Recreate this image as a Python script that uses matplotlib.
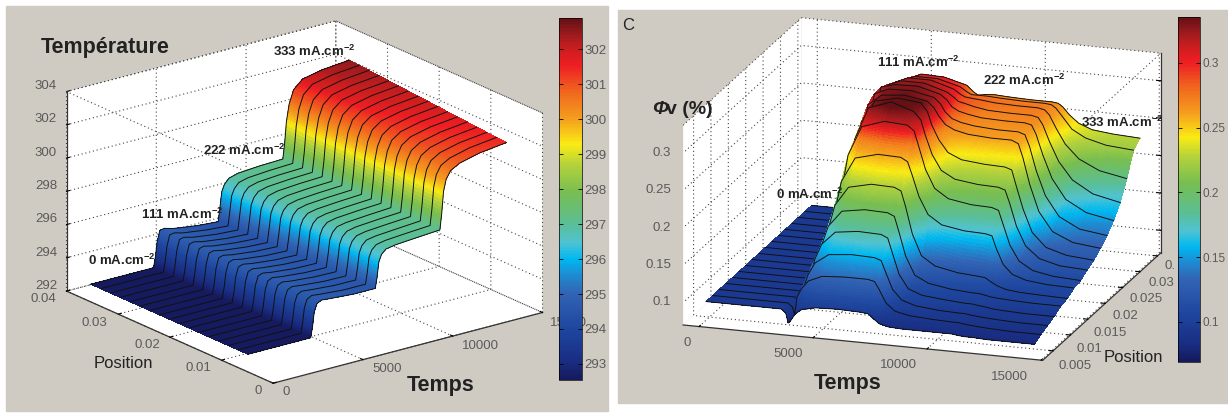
import numpy as np
import matplotlib
matplotlib.use("Agg")
import matplotlib.pyplot as plt
from matplotlib.colors import LinearSegmentedColormap, Normalize
from matplotlib.cm import ScalarMappable
from matplotlib.patches import Rectangle

plt.rcParams['font.family'] = ['Liberation Sans', 'DejaVu Sans']
plt.rcParams['mathtext.fontset'] = 'custom'
plt.rcParams['mathtext.rm'] = 'Liberation Sans'
plt.rcParams['mathtext.bf'] = 'Liberation Sans:bold'
plt.rcParams['mathtext.it'] = 'Liberation Sans:italic'

# left panel : temperature, one inner list per time, front row first
temp_times = [600, 3000, 4100, 4200, 4300, 4450, 4700, 5200, 6500, 7700, 7800, 7900,
              8050, 8300, 8800, 10000, 11300, 11400, 11500, 11650, 11900, 12400, 13500, 15000]
temp_positions = [0.0070, 0.0089, 0.0108, 0.0127, 0.0146, 0.0165, 0.0184, 0.0203, 0.0222,
                  0.0241, 0.0260, 0.0279, 0.0298, 0.0317, 0.0336, 0.0355, 0.0374]
temp_values = [
    [292.6] * 17,
    [292.6] * 17,
    [292.6] * 17,
    [293.2] * 17,
    [294.1] * 17,
    [294.55, 294.56, 294.58, 294.59, 294.60, 294.61, 294.63, 294.64, 294.65, 294.66, 294.68, 294.69, 294.70, 294.71, 294.73, 294.74, 294.75],
    [294.70, 294.71, 294.71, 294.72, 294.73, 294.73, 294.74, 294.74, 294.75, 294.76, 294.76, 294.77, 294.78, 294.78, 294.79, 294.79, 294.80],
    [294.65] * 17,
    [294.55, 294.54, 294.54, 294.53, 294.53, 294.52, 294.51, 294.51, 294.50, 294.49, 294.49, 294.48, 294.48, 294.47, 294.46, 294.46, 294.45],
    [294.55, 294.54, 294.53, 294.51, 294.50, 294.49, 294.48, 294.46, 294.45, 294.44, 294.43, 294.41, 294.40, 294.39, 294.38, 294.36, 294.35],
    [295.2] * 17,
    [296.1] * 17,
    [296.5] * 17,
    [296.75, 296.75, 296.76, 296.76, 296.76, 296.77, 296.77, 296.77, 296.78, 296.78, 296.78, 296.78, 296.79, 296.79, 296.79, 296.80, 296.80],
    [296.85, 296.86, 296.86, 296.87, 296.88, 296.88, 296.89, 296.89, 296.90, 296.91, 296.91, 296.92, 296.93, 296.93, 296.94, 296.94, 296.95],
    [296.95, 296.96, 296.96, 296.97, 296.98, 296.98, 296.99, 296.99, 297.00, 297.01, 297.01, 297.02, 297.03, 297.03, 297.04, 297.04, 297.05],
    [297.05, 297.05, 297.06, 297.06, 297.06, 297.07, 297.07, 297.07, 297.08, 297.08, 297.08, 297.08, 297.09, 297.09, 297.09, 297.10, 297.10],
    [298.0] * 17,
    [299.3] * 17,
    [300.00, 300.02, 300.04, 300.06, 300.08, 300.09, 300.11, 300.13, 300.15, 300.17, 300.19, 300.21, 300.23, 300.24, 300.26, 300.28, 300.30],
    [300.45, 300.49, 300.53, 300.57, 300.61, 300.65, 300.69, 300.73, 300.78, 300.82, 300.86, 300.90, 300.94, 300.98, 301.02, 301.06, 301.10],
    [300.75, 300.80, 300.86, 300.91, 300.96, 301.02, 301.07, 301.12, 301.18, 301.23, 301.28, 301.33, 301.39, 301.44, 301.49, 301.55, 301.60],
    [301.05, 301.10, 301.15, 301.20, 301.25, 301.30, 301.35, 301.40, 301.45, 301.50, 301.55, 301.60, 301.65, 301.70, 301.75, 301.80, 301.85],
    [301.25, 301.30, 301.34, 301.39, 301.44, 301.48, 301.53, 301.58, 301.63, 301.67, 301.72, 301.77, 301.81, 301.86, 301.91, 301.95, 302.00],
]

# right panel : phi v, one inner list per position, front row first
phi_times = [0, 3300, 3500, 3600, 3700, 3900, 4200, 4800, 5800, 6800, 7100, 7300,
             7600, 8000, 8600, 9600, 10500, 10800, 11000, 11300, 11700, 12300, 13200, 14400]
phi_positions = [0.0040, 0.0059, 0.0078, 0.0097, 0.0116, 0.0135, 0.0154, 0.0173, 0.0192,
                 0.0211, 0.0230, 0.0249, 0.0268, 0.0287, 0.0306, 0.0325, 0.0344]
phi_values = [
    [.095, .095, .090, .077, .080, .090, .097, .101, .102, .101, .100, .095, .088, .085, .084, .084, .084, .084, .083, .082, .082, .081, .081, .081],
    [.095, .095, .090, .080, .104, .116, .127, .135, .137, .137, .135, .125, .108, .098, .094, .092, .091, .091, .090, .089, .088, .087, .086, .086],
    [.095, .095, .092, .085, .109, .127, .143, .156, .159, .158, .155, .140, .118, .105, .099, .096, .095, .095, .094, .093, .092, .091, .090, .090],
    [.095, .095, .093, .090, .114, .139, .160, .178, .182, .181, .177, .158, .130, .112, .105, .102, .100, .100, .099, .098, .096, .095, .094, .094],
    [.095, .095, .094, .095, .119, .149, .176, .198, .203, .202, .198, .178, .146, .122, .113, .108, .106, .106, .105, .103, .102, .101, .100, .100],
    [.095, .095, .095, .100, .124, .162, .196, .222, .229, .228, .224, .204, .168, .140, .128, .122, .120, .119, .115, .110, .106, .104, .103, .102],
    [.095, .095, .095, .105, .132, .178, .220, .253, .261, .260, .255, .238, .210, .187, .175, .170, .169, .167, .150, .130, .118, .112, .109, .108],
    [.095, .095, .095, .110, .139, .196, .247, .287, .297, .295, .288, .268, .238, .214, .202, .197, .196, .193, .175, .148, .128, .117, .112, .110],
    [.095, .095, .095, .115, .143, .205, .260, .304, .315, .305, .295, .275, .250, .230, .220, .216, .215, .212, .195, .165, .140, .125, .118, .116],
    [.095, .095, .095, .120, .150, .220, .275, .305, .312, .309, .298, .280, .262, .246, .238, .235, .234, .231, .210, .180, .150, .132, .124, .121],
    [.095, .095, .095, .120, .155, .235, .290, .305, .308, .303, .295, .285, .274, .268, .264, .262, .262, .258, .240, .205, .170, .145, .133, .129],
    [.095, .095, .095, .120, .160, .250, .297, .305, .306, .300, .292, .282, .274, .270, .267, .265, .265, .262, .247, .215, .183, .157, .143, .138],
    [.095, .095, .095, .120, .170, .265, .298, .303, .304, .296, .289, .281, .276, .273, .270, .269, .269, .267, .255, .228, .198, .172, .157, .150],
    [.095, .095, .095, .120, .175, .265, .293, .300, .300, .291, .285, .280, .278, .275, .272, .271, .271, .269, .260, .238, .213, .190, .174, .166],
    [.095, .095, .095, .120, .175, .260, .288, .296, .296, .287, .281, .278, .277, .276, .274, .273, .273, .271, .265, .248, .228, .210, .197, .190],
    [.095, .095, .095, .115, .170, .255, .282, .290, .290, .282, .276, .273, .273, .273, .272, .271, .271, .270, .266, .255, .240, .230, .223, .220],
    [.095, .095, .095, .110, .165, .250, .276, .285, .284, .276, .268, .264, .266, .267, .266, .265, .265, .264, .260, .250, .240, .233, .230, .228],
]

# tick values and colorbar ticks
temp_xticks = [0, 5000, 10000, 15000]
temp_yticks = [0, 0.01, 0.02, 0.03, 0.04]
temp_zticks = [292, 294, 296, 298, 300, 302, 304]
temp_cticks = [293, 294, 295, 296, 297, 298, 299, 300, 301, 302]
phi_xticks = [0, 5000, 10000, 15000]
phi_yticks = [0.005, 0.01, 0.015, 0.02, 0.025, 0.03, 0.035]
phi_zticks = [0.1, 0.15, 0.2, 0.25, 0.3]
phi_cticks = [0.1, 0.15, 0.2, 0.25, 0.3]
phi_clabels = ['0.1', '0.15', '0.2', '0.25', '0.3']

# colours read on the colorbar
cmap = LinearSegmentedColormap.from_list('bar', [
    (0.00, '#16195c'), (0.05, '#192d82'), (0.14, '#1e469f'), (0.24, '#3264b4'),
    (0.29, '#1e8cd2'), (0.334, '#00b9f0'), (0.38, '#50c3d2'), (0.43, '#5abe96'),
    (0.52, '#78be50'), (0.595, '#b4d23c'), (0.652, '#faeb14'), (0.72, '#f5a01e'),
    (0.80, '#f0641e'), (0.87, '#ee1e23'), (0.92, '#c81e1e'), (0.96, '#961a1e'), (1.00, '#641014'),
])
beige = '#d0cbc2'
grey = '#5a5a5a'
dots = (0, (1, 2.5))

fig = plt.figure(figsize=(12.28, 4.13), dpi=100, facecolor='white')
W, H = 1228.0, 413.0

# the two grey panels
fig.patches.append(Rectangle((6 / W, 1 - 411 / H), 602 / W, 405 / H, transform=fig.transFigure, color=beige, zorder=-5))
fig.patches.append(Rectangle((618 / W, 1 - 403 / H), 610 / W, 393 / H, transform=fig.transFigure, color=beige, zorder=-5))


def make_axes(cx, cy, elev, azim, box, zoom):
    # cx, cy is where the middle of the box falls, in pixels
    # the axes are large because mplot3d clips what goes out of them
    size = 700.0
    rect = [(cx - 0.5135 * size) / W, 1 - (cy + 0.515 * size) / H, size / W, size / H]
    ax = fig.add_axes(rect, projection='3d', proj_type='ortho', computed_zorder=False)
    ax.patch.set_alpha(0)
    ax.view_init(elev=elev, azim=azim)
    ax.set_box_aspect(box, zoom=zoom)
    for axis in (ax.xaxis, ax.yaxis, ax.zaxis):
        axis.set_pane_color('white')
        axis.pane.set_edgecolor('none')
        axis.line.set_color('#333333')
        axis.line.set_linewidth(0.9)
        axis._axinfo['grid'].update(color='#444444', linestyle=dots, linewidth=0.8)
        axis._axinfo['tick'].update(inward_factor=0.0, outward_factor=0.14)
    return ax


def draw_surface(ax, times, positions, rows, remap_in, remap_out, norm, p_split):
    # strips are painted back to front so the front ones hide what they should
    rows = np.array(rows)
    times = np.array(times, dtype=float)
    positions = np.array(positions)
    n_t = len(times)
    # only splits the flat faces to get a smooth colour on them
    idx = np.linspace(0, n_t - 1, (n_t - 1) * 6 + 1)
    t_mesh = np.interp(idx, np.arange(n_t), times)
    u = np.linspace(0, 1, p_split + 1)
    order = 2
    for i in range(len(positions) - 2, -1, -1):
        za = np.interp(idx, np.arange(n_t), rows[i])
        zb = np.interp(idx, np.arange(n_t), rows[i + 1])
        zz = np.outer(1 - u, za) + np.outer(u, zb)
        pp = positions[i] + u * (positions[i + 1] - positions[i])
        tt, pp = np.meshgrid(t_mesh, pp)
        colours = cmap(norm(np.interp(zz, remap_in, remap_out)))
        ax.plot_surface(tt, pp, zz, facecolors=colours, rstride=1, cstride=1, shade=False,
                        linewidth=0.3, edgecolor='none', antialiased=False, zorder=order)
        order += 1
        ax.plot(times, [positions[i + 1]] * n_t, rows[i + 1], color='#111111', lw=0.7, zorder=order)
        order += 1
    ax.plot(times, [positions[0]] * n_t, rows[0], color='#111111', lw=0.7, zorder=order)


def top_box(ax, x, y, z):
    # dotted top of the box
    ax.plot([x[0], x[1]], [y[1], y[1]], [z[1], z[1]], color='#444444', ls=dots, lw=0.8, zorder=1)
    ax.plot([x[0], x[0]], [y[0], y[1]], [z[1], z[1]], color='#444444', ls=dots, lw=0.8, zorder=1)
    ax.plot([x[1], x[1]], [y[0], y[1]], [z[1], z[1]], color='#444444', ls=dots, lw=0.8, zorder=1)


def add_colorbar(x0, x1, y0, y1, vmin, vmax, ticks, labels, size):
    cax = fig.add_axes([x0 / W, 1 - y1 / H, (x1 - x0) / W, (y1 - y0) / H])
    cb = fig.colorbar(ScalarMappable(norm=Normalize(vmin, vmax), cmap=cmap), cax=cax)
    cb.set_ticks(ticks)
    cb.set_ticklabels(labels)
    cb.outline.set_linewidth(0.5)
    cax.tick_params(axis='y', direction='in', length=3, width=0.6, labelsize=size, labelcolor=grey,
                    left=True, right=True, pad=2)
    return cb


def label(x, y, s, **kw):
    fig.text(x / W, 1 - y / H, s, va='center', **kw)


def tick_text(x, y, s):
    fig.text(x / W, 1 - y / H, s, va='center', ha='center', fontsize=9.5, color=grey, zorder=-1)


# left panel
ax1 = make_axes(304.5, 201, 20, -127.5, (339, 339, 212), 0.728)
xl1, yl1, zl1 = (0, 15000), (0, 0.04), (292, 304)
ax1.set_xlim(*xl1, view_margin=0)
ax1.set_ylim(*yl1, view_margin=0)
ax1.set_zlim(*zl1, view_margin=0)
ax1.set_xticks(temp_xticks)
ax1.set_yticks(temp_yticks)
ax1.set_zticks(temp_zticks)
ax1.set_xticklabels([])
ax1.set_yticklabels([])
ax1.set_zticklabels([])
top_box(ax1, xl1, yl1, zl1)
draw_surface(ax1, temp_times, temp_positions, np.array(temp_values).T,
             [292, 301.2, 302.1], [292, 301.4, 302.7], Normalize(292.54, 302.9), 3)
add_colorbar(559, 582, 18, 380, 292.54, 302.9, temp_cticks, [str(v) for v in temp_cticks], 9.5)

for y, s in zip([286, 253, 219, 186, 153, 119, 86], temp_zticks):
    tick_text(46, y, str(s))
for x, y, s in zip([258, 198, 147, 94, 43], [391, 368, 345, 323, 299], ['0', '0.01', '0.02', '0.03', '0.04']):
    tick_text(x, y, s)
for x, y, s in zip([286, 387, 480, 568], [392, 369, 346, 323], temp_xticks):
    tick_text(x, y, str(s))

# right panel
ax2 = make_axes(922, 188, 17.4, -71.8, (378, 378, 209), 0.797)
xl2, yl2, zl2 = (-700, 15070), (0.002, 0.036), (0.07, 0.337)
ax2.set_xlim(*xl2, view_margin=0)
ax2.set_ylim(*yl2, view_margin=0)
ax2.set_zlim(*zl2, view_margin=0)
ax2.set_xticks(phi_xticks)
ax2.set_yticks(phi_yticks)
ax2.set_zticks(phi_zticks)
ax2.set_xticklabels([])
ax2.set_yticklabels([])
ax2.set_zticklabels([])
top_box(ax2, xl2, yl2, zl2)
draw_surface(ax2, phi_times, phi_positions, phi_values,
             [0.07, 0.27, 0.29, 0.31], [0.07, 0.27, 0.31, 0.336], Normalize(0.069, 0.3355), 12)
add_colorbar(1178, 1200, 17, 362, 0.069, 0.3355, phi_cticks, phi_clabels, 8.5)

for x, y, s in zip([662, 658, 662, 658, 662], [302, 265, 228, 190, 153], ['0.1', '0.15', '0.2', '0.25', '0.3']):
    tick_text(x, y, s)
for x, y, s in zip([687, 788, 898, 1009], [343, 354, 365, 377], phi_xticks):
    tick_text(x, y, str(s))
for x, y, s in zip([1075, 1089, 1110, 1125, 1146, 1161, 1170], [366, 349, 333, 316, 299, 283, 266],
                   ['0.005', '0.01', '0.015', '0.02', '0.025', '0.03', '0.']):
    tick_text(x, y, s)

# annotations in the panels
sup = r'$^{\mathbf{-2}}$'
label(88, 260, '0 mA.cm' + sup, fontsize=9.5, fontweight='bold', color='#222222')
label(141, 214, '111 mA.cm' + sup, fontsize=9.5, fontweight='bold', color='#222222')
label(203, 150, '222 mA.cm' + sup, fontsize=9.5, fontweight='bold', color='#222222')
label(273, 51, '333 mA.cm' + sup, fontsize=9.5, fontweight='bold', color='#222222')
label(41, 48, 'Température', fontsize=15.5, fontweight='bold', color='#222222')
label(94, 364, 'Position', fontsize=12, color='#222222')
label(407, 385, 'Temps', fontsize=15.5, fontweight='bold', color='#222222')

label(776, 194, '0 mA.cm' + sup, fontsize=9.5, fontweight='bold', color='#222222')
label(877, 62, '111 mA.cm' + sup, fontsize=9.5, fontweight='bold', color='#222222')
label(983, 80, '222 mA.cm' + sup, fontsize=9.5, fontweight='bold', color='#222222')
label(1081, 122, '333 mA.cm' + sup, fontsize=9.5, fontweight='bold', color='#222222')
label(622, 25, 'C', fontsize=12, color='#222222')
label(652, 110, 'Φ', fontsize=14, fontweight='bold', style='italic', color='#222222')
label(666, 110, 'v (%)', fontsize=14, fontweight='bold', color='#222222')
label(1104, 358, 'Position', fontsize=12, color='#222222')
label(814, 383, 'Temps', fontsize=15.5, fontweight='bold', color='#222222')

fig.savefig('out.png', dpi=100)
